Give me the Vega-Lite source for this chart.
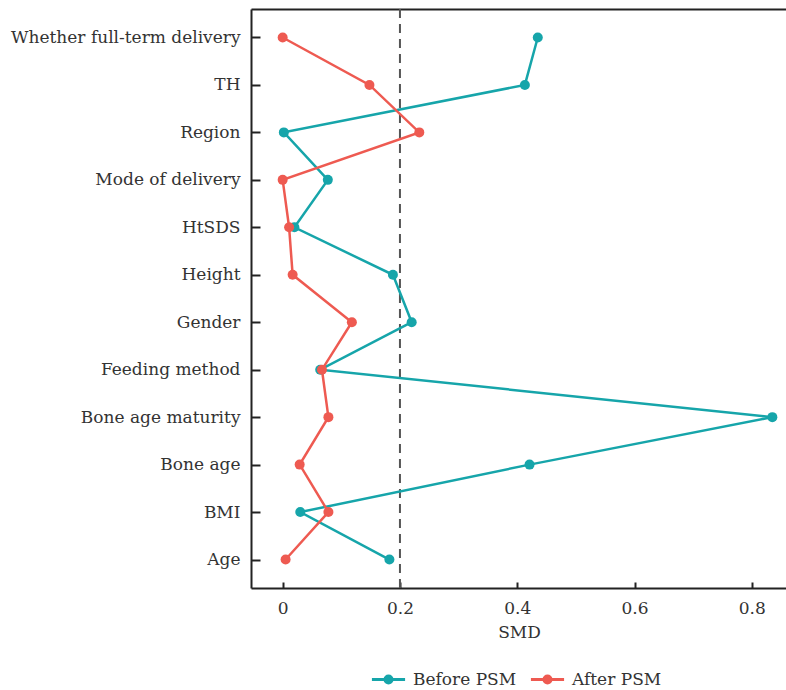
{
  "$schema": "https://vega.github.io/schema/vega-lite/v6.json",
  "width": 536,
  "height": 579,
  "padding": {"left": 10, "top": 8, "right": 0, "bottom": 2},
  "background": "white",
  "config": {
    "font": "DejaVu Serif",
    "view": {"stroke": null},
    "axis": {
      "labelFont": "DejaVu Serif",
      "labelFontSize": 17,
      "labelColor": "#333333",
      "labelLimit": 400,
      "titleFont": "DejaVu Serif",
      "titleFontSize": 17,
      "titleFontWeight": "normal",
      "titleColor": "#333333",
      "domainColor": "#222222",
      "domainWidth": 2,
      "tickColor": "#222222",
      "tickWidth": 2,
      "grid": false
    },
    "legend": {
      "labelFont": "DejaVu Serif",
      "labelFontSize": 17,
      "labelColor": "#333333"
    }
  },
  "data": {
    "values": [
      {"var": "Whether full-term delivery", "group": "Before PSM", "smd": 0.435, "idx": 1},
      {"var": "TH", "group": "Before PSM", "smd": 0.413, "idx": 2},
      {"var": "Region", "group": "Before PSM", "smd": 0.002, "idx": 3},
      {"var": "Mode of delivery", "group": "Before PSM", "smd": 0.077, "idx": 4},
      {"var": "HtSDS", "group": "Before PSM", "smd": 0.02, "idx": 5},
      {"var": "Height", "group": "Before PSM", "smd": 0.188, "idx": 6},
      {"var": "Gender", "group": "Before PSM", "smd": 0.22, "idx": 7},
      {"var": "Feeding method", "group": "Before PSM", "smd": 0.064, "idx": 8},
      {"var": "Bone age maturity", "group": "Before PSM", "smd": 0.835, "idx": 9},
      {"var": "Bone age", "group": "Before PSM", "smd": 0.421, "idx": 10},
      {"var": "BMI", "group": "Before PSM", "smd": 0.03, "idx": 11},
      {"var": "Age", "group": "Before PSM", "smd": 0.182, "idx": 12},
      {"var": "Whether full-term delivery", "group": "After PSM", "smd": 0.0, "idx": 1},
      {"var": "TH", "group": "After PSM", "smd": 0.148, "idx": 2},
      {"var": "Region", "group": "After PSM", "smd": 0.233, "idx": 3},
      {"var": "Mode of delivery", "group": "After PSM", "smd": 0.0, "idx": 4},
      {"var": "HtSDS", "group": "After PSM", "smd": 0.011, "idx": 5},
      {"var": "Height", "group": "After PSM", "smd": 0.017, "idx": 6},
      {"var": "Gender", "group": "After PSM", "smd": 0.118, "idx": 7},
      {"var": "Feeding method", "group": "After PSM", "smd": 0.067, "idx": 8},
      {"var": "Bone age maturity", "group": "After PSM", "smd": 0.078, "idx": 9},
      {"var": "Bone age", "group": "After PSM", "smd": 0.029, "idx": 10},
      {"var": "BMI", "group": "After PSM", "smd": 0.078, "idx": 11},
      {"var": "Age", "group": "After PSM", "smd": 0.005, "idx": 12}
    ]
  },
  "encoding": {
    "color": {
      "field": "group",
      "type": "nominal",
      "scale": {"domain": ["Before PSM", "After PSM"], "range": ["#16a5aa", "#ee5a51"]},
      "legend": {
        "orient": "none",
        "legendX": 119,
        "legendY": 652,
        "direction": "horizontal",
        "title": null,
        "symbolType": "M-1,0L1,0M0.21,0A0.21,0.21 0 1,0 -0.21,0A0.21,0.21 0 1,0 0.21,0M0.07,0A0.07,0.07 0 1,0 -0.07,0A0.07,0.07 0 1,0 0.07,0",
        "symbolSize": 1100,
        "symbolStrokeWidth": 3,
        "labelOffset": 6,
        "columnPadding": 7
      }
    },
    "order": {"field": "idx", "type": "quantitative"}
  },
  "layer": [
    {
      "data": {"values": [{"thr": 0.2}]},
      "mark": {"type": "rule", "strokeDash": [9, 6], "strokeWidth": 2, "color": "#555555"},
      "encoding": {
        "x": {
          "field": "thr",
          "type": "quantitative",
          "scale": {"domain": [-0.054, 0.86], "nice": false, "zero": false},
          "axis": {"orient": "top", "labels": false, "ticks": false, "title": null, "domain": true}
        },
        "color": null,
        "order": null
      }
    },
    {
      "mark": {"type": "line", "strokeWidth": 2.5},
      "encoding": {
        "x": {
          "field": "smd",
          "type": "quantitative",
          "scale": {"domain": [-0.054, 0.86], "nice": false, "zero": false},
          "axis": {
            "orient": "bottom",
            "values": [0, 0.2, 0.4, 0.6, 0.8],
            "format": ".1~f",
            "ticks": false,
            "labelPadding": 12,
            "title": "SMD",
            "titlePadding": 8
          }
        },
        "y": {
          "field": "var",
          "type": "nominal",
          "sort": ["Whether full-term delivery", "TH", "Region", "Mode of delivery", "HtSDS", "Height", "Gender", "Feeding method", "Bone age maturity", "Bone age", "BMI", "Age"],
          "scale": {"type": "point", "padding": 0.6},
          "axis": {"orient": "left", "title": null, "ticks": false, "labelPadding": 11}
        }
      }
    },
    {
      "mark": {"type": "circle", "size": 100, "opacity": 1},
      "encoding": {
        "x": {
          "field": "smd",
          "type": "quantitative",
          "scale": {"domain": [-0.054, 0.86], "nice": false, "zero": false},
          "axis": {
            "orient": "top",
            "offset": -579,
            "values": [0, 0.2, 0.4, 0.6, 0.8],
            "labels": false,
            "domain": false,
            "ticks": true,
            "tickSize": 6,
            "title": null
          }
        },
        "y": {
          "field": "var",
          "type": "nominal",
          "sort": ["Whether full-term delivery", "TH", "Region", "Mode of delivery", "HtSDS", "Height", "Gender", "Feeding method", "Bone age maturity", "Bone age", "BMI", "Age"],
          "scale": {"type": "point", "padding": 0.6},
          "axis": {"orient": "right", "offset": -536, "title": null, "labels": false, "domain": false, "ticks": true, "tickSize": 9}
        }
      }
    }
  ],
  "resolve": {"axis": {"x": "independent", "y": "independent"}}
}
